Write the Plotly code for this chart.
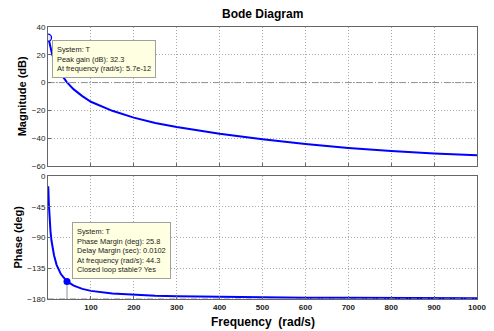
import plotly.graph_objects as go
from plotly.subplots import make_subplots

# Frequency points (rad/s) and read-off responses
freq = [0.8, 2, 4, 6, 8, 10, 14, 20, 30, 44.3, 60, 80, 100, 150, 200, 250, 300,
        400, 500, 600, 700, 800, 900, 1000]
mag_db = [32.0, 30.6, 27.5, 24.6, 22.2, 20.0, 16.4, 12.0, 6.2, 0.1, -4.9, -9.7,
          -13.8, -20.3, -25.2, -29.0, -32.0, -36.8, -40.8, -44.2, -47.0, -49.3,
          -51.0, -52.3]
phase_deg = [-18, -41, -66.6, -82.6, -94, -103, -116, -130, -143.5, -154.2,
             -160.5, -165.2, -168.1, -172.1, -174.1, -175.2, -176.0, -177.0,
             -177.6, -178.0, -178.3, -178.5, -178.7, -178.8]

x_ticks = [100, 200, 300, 400, 500, 600, 700, 800, 900, 1000]
mag_ticks = [40, 20, 0, -20, -40, -60]
phase_ticks = [0, -45, -90, -135, -180]

peak_freq, peak_gain = 5.7e-12, 32.3
pm_freq, pm_phase = 44.3, -154.2

font = "Liberation Sans, Arial, sans-serif"
blue = "#0000ff"

fig = make_subplots(rows=2, cols=1, shared_xaxes=False, vertical_spacing=0.037)

fig.add_trace(go.Scatter(x=[peak_freq] + freq, y=[peak_gain] + mag_db, mode="lines",
                         line=dict(color=blue, width=2), hoverinfo="skip"), row=1, col=1)
fig.add_trace(go.Scatter(x=[peak_freq], y=[peak_gain], mode="markers",
                         marker=dict(symbol="circle", size=7, color="#e8e8ff",
                                     line=dict(color=blue, width=1.3))), row=1, col=1)

fig.add_trace(go.Scatter(x=[0.3] + freq, y=[-15] + phase_deg, mode="lines",
                         line=dict(color=blue, width=2), hoverinfo="skip"), row=2, col=1)
fig.add_trace(go.Scatter(x=[pm_freq, pm_freq], y=[pm_phase, -180], mode="lines",
                         line=dict(color="#909090", width=1)), row=2, col=1)
fig.add_trace(go.Scatter(x=[pm_freq], y=[pm_phase], mode="markers",
                         marker=dict(size=7, color=blue)), row=2, col=1)

# reference lines
fig.add_trace(go.Scatter(x=[0, 1000], y=[0, 0], mode="lines",
                         line=dict(color="#909090", width=1, dash="6px,2px,1px,2px")),
              row=1, col=1)
fig.add_trace(go.Scatter(x=[0, 1000], y=[-180, -180], mode="lines",
                         line=dict(color="#909090", width=1, dash="6px,2px,1px,2px")),
              row=2, col=1)

axis_common = dict(showline=True, linecolor="#666666", linewidth=1, mirror=True,
                   showgrid=True, gridcolor="#a8a8a8", griddash="1px,2px", gridwidth=1,
                   ticks="inside", ticklen=3, tickcolor="#666666", zeroline=False,
                   ticklabeloverflow="allow",
                   tickfont=dict(family=font, size=8, color="#222222"))

fig.update_xaxes(range=[0, 1000], tickvals=x_ticks, **axis_common)
fig.update_xaxes(showticklabels=False, row=1, col=1)
fig.update_xaxes(ticktext=["<b>%d</b>" % v for v in x_ticks], row=2, col=1)
fig.update_yaxes(range=[-60, 40], tickvals=mag_ticks, row=1, col=1, **axis_common)
fig.update_yaxes(range=[-180, 0], tickvals=phase_ticks, row=2, col=1, **axis_common)

fig.update_layout(
    width=494, height=331, showlegend=False,
    margin=dict(l=48, r=8, t=27, b=32),
    paper_bgcolor="white", plot_bgcolor="white",
    font=dict(family=font, size=8, color="#000"),
)
fig.update_layout(yaxis=dict(domain=[0.489, 1.0]), yaxis2=dict(domain=[0.0, 0.452]))

fig.add_annotation(text="<b>Bode Diagram</b>", xref="paper", yref="paper",
                   x=0.5, y=1.0, yshift=13, xanchor="center", yanchor="middle",
                   showarrow=False, font=dict(family=font, size=12, color="#000"))
fig.add_annotation(text="<b>Frequency&nbsp; (rad/s)</b>", xref="paper", yref="paper",
                   x=0.5, y=0, yshift=-23, xanchor="center", yanchor="middle",
                   showarrow=False, font=dict(family=font, size=12, color="#000"))
fig.add_annotation(text="<b>Magnitude (dB)</b>", xref="paper", yref="paper",
                   x=0, xshift=-26, y=0.745, textangle=-90, xanchor="center",
                   yanchor="middle", showarrow=False,
                   font=dict(family=font, size=11, color="#000"))
fig.add_annotation(text="<b>Phase (deg)</b>", xref="paper", yref="paper",
                   x=0, xshift=-30, y=0.226, textangle=-90, xanchor="center",
                   yanchor="middle", showarrow=False,
                   font=dict(family=font, size=11, color="#000"))

box = dict(showarrow=False, align="left", xanchor="left", yanchor="top",
           bgcolor="#ffffe1", bordercolor="#a0a0a0", borderwidth=1, borderpad=4,
           font=dict(family=font, size=7.4, color="#222"))
fig.add_annotation(text="System: T<br>Peak gain (dB): 32.3<br>At frequency (rad/s): 5.7e-12",
                   xref="x", yref="y", x=9, y=30.6, **box)
fig.add_annotation(text="System: T<br>Phase Margin (deg): 25.8<br>Delay Margin (sec): 0.0102"
                        "<br>At frequency (rad/s): 44.3<br>Closed loop stable? Yes",
                   xref="x2", yref="y2", x=55, y=-67, **box)

fig.write_html("out.html", config={"displayModeBar": False},
               post_script="document.body.style.margin='0';"
               "document.body.style.overflow='hidden';")
